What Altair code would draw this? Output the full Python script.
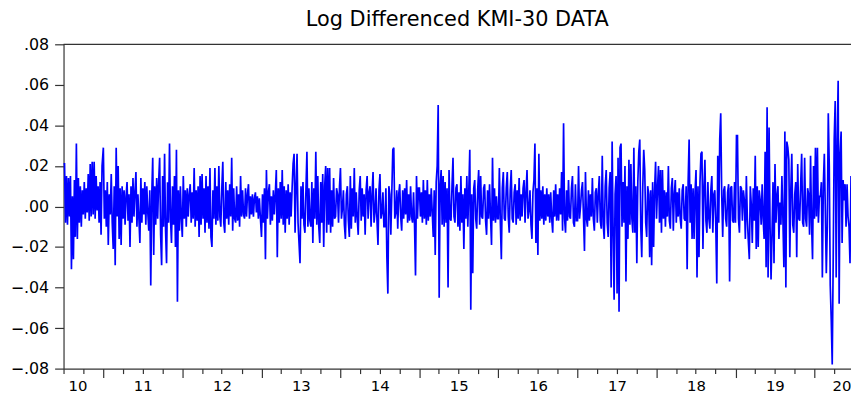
import altair as alt
import pandas as pd

# Log-differenced KMI-30 values, in units of 0.001
# (one reading per ~1/80 of a year, per calendar year)
y2010 = [21, 21, -8, 15, -9, 14, -5, 15, -31, 5, -26, 13, -15, 31, -16, 14, -8, 10, -10, 8,
         -4, 12, -6, 9, -3, 16, -7, 21, -5, 22, -4, 22, -6, 15, -2, 10, -8, 12, -14, 20]
y2011 = [29, -6, 8, -10, 12, -19, 6, -4, 16, -8, -21, 10, -29, 29, -5, 20, -16, 9, -19, 10,
         -6, 8, -9, 5, 12, -7, 6, -20, 10, -8, 14, -5, 7, 17, -10, 6, -6, -18, 14, -8,
         9, -4, 12, -9, 10, -3, -12, 8, -39, 5, 24, -24, 10, -9, 14, -6, 12, 24, -14, -29,
         15, -10, 26, -12, -28, 12, -8, 31, -6, -18, 10, -9, 15, -20, 28, -47, 8, -12, 10, -6]
y2012 = [-15, 15, -6, 8, -10, 9, -5, 6, 11, -8, 7, -6, 19, -10, 8, -7, 10, -15, 15, -9,
         16, -6, 9, -13, 15, -8, 10, -11, 19, -15, -20, 8, -6, 19, -9, 10, -7, 20, -5, -10,
         9, 22, -8, -13, 12, -6, 8, -9, 11, -5, 24, -12, 9, -6, -8, 10, -7, 6, -10, 15,
         -5, 8, -4, -6, 9, -5, 6, 11, -6, 5, -4, 6, -5, 4, 7, -3, 5, -6, 4, -5]
y2013 = [-15, 6, -8, 9, -26, 18, -6, 7, 11, -9, 5, -7, 8, -4, 6, 18, -25, 9, -8, 12,
         -6, 18, -9, 10, -13, 8, -6, 11, -9, 7, -5, 9, 21, 26, -13, 10, 26, -8, -18, -28,
         10, -6, 12, -9, -13, 8, 27, -10, 9, -7, -10, 12, -18, 9, -6, 27, -9, 15, -10, -18,
         12, -8, 16, -20, 10, 20, -13, 19, -9, 19, -13, 8, -10, 14, -6, -5, 9, 6, -8, 10]
y2014 = [19, -6, -1, 8, -9, -16, 6, 10, -7, -15, 15, -11, 9, -5, 19, -8, 7, -6, -14, 8,
         15, -7, 9, -5, 6, -14, 8, 15, -6, 7, 10, -10, 6, 17, -8, -3, 9, -7, -19, 8,
         16, -6, -3, 7, -10, -10, 9, -25, -43, 10, 6, -14, 7, 28, 29, -6, -3, 8, -11, 6,
         11, -5, -12, 8, -6, 9, -4, 13, -8, 6, -7, 10, -5, -8, 7, -9, -34, 15, -6, 9]
y2015 = [9, -5, 7, -8, 13, -6, 8, -9, 13, -7, 6, -5, 9, -3, -15, 8, -24, 12, 20, 50,
         -45, 10, 18, -9, 15, -10, 12, -8, 9, -40, 18, -6, -7, 10, 24, -5, -8, 9, 11, -10,
         7, -12, 15, -8, 6, -21, 9, -6, 15, -10, 8, 28, -51, 6, -33, 9, 13, -6, -11, 8,
         18, -9, 15, -5, -6, 9, 11, -7, -14, 8, -6, 11, -5, -19, 24, -7, 9, -8, 5, -6]
y2016 = [-6, 19, -8, -26, 9, 17, -6, -7, 9, 17, -5, -13, 8, 18, -6, -8, 7, 11, -9, 8,
         -6, 14, -7, 6, -5, 9, 13, -8, 7, 18, -6, -2, 8, -9, -16, 7, 13, 31, -18, 9,
         -24, 26, -7, 8, -6, 10, -9, 6, -7, 9, -5, 6, -8, 7, -6, -13, 8, -5, 11, -7,
         6, -7, 9, -4, 17, -12, 41, -6, -13, 8, -7, 13, -5, -6, 9, 15, -8, -10, 11, -7]
y2017 = [-7, 20, -6, 0, 8, 12, -5, -22, 17, -6, -10, 8, -7, 6, -5, 14, -6, -12, 7, 9,
         -8, 6, 15, -7, -11, 25, -9, -16, 10, 18, -8, -15, 9, 17, -40, 32, -12, -46, 6, 15,
         -43, 24, -52, 29, 31, -10, 12, -8, 20, -37, 10, -16, 23, -9, 21, -6, -13, 29, -13, 10,
         -28, 12, 27, 33, -10, -25, 9, 28, 18, -8, -15, 10, 6, -25, 8, -29, 12, -20, 8, 22]
y2018 = [-6, 9, 20, -8, 18, -13, 18, -6, 8, -10, 7, -5, 20, -7, -11, 9, 14, -12, 6, 13,
         -8, 7, -5, 9, -6, -11, 8, 11, -6, -7, 10, -31, 12, 33, -8, 11, -16, 9, -16, 7,
         18, -35, 10, -25, 12, 26, 27, -21, 9, 23, -7, -13, 12, -6, -11, 8, 15, -13, 6, 8,
         -9, -38, 25, -8, 33, 46, 6, -15, 8, 10, -6, -10, 7, 11, -37, 9, 10, -7, -8, 12]
y2019 = [-8, 35, 35, -6, -13, 10, 9, -7, 8, 3, -16, 15, -6, -17, -26, 10, 1, -18, 9, -7,
         25, -21, 10, -20, 8, 3, -9, 11, -6, -16, 27, -30, 49, -35, 39, -10, -36, -13, 12, -28,
         21, -8, 5, 10, -16, 2, -9, 15, -6, -30, 37, -40, 32, 29, 23, -25, 8, 26, -9, -13,
         6, 12, -25, 21, -6, -7, 11, 26, -8, -10, 24, -6, -10, 9, 6, -14, 25, -8, -26, 20]
y2020 = [-6, 29, -5, 29, -8, 5, 5, 12, -35, 11, 26, -2, -33, -10, 46, 20, -39, -56, -78, -25,
         33, 52, -35, 32, 62, -48, 26, 37, -18, 13, 3, 11, -10, 11, -5, -10, -28, 15]

years = {2010: y2010, 2011: y2011, 2012: y2012, 2013: y2013, 2014: y2014, 2015: y2015,
         2016: y2016, 2017: y2017, 2018: y2018, 2019: y2019, 2020: y2020}

# x-axis tick labels (two-digit years) and where they sit
label_dates = ["2010-09-03"] + [f"{y}-07-02" for y in range(2011, 2020)] + ["2020-05-05"]
quarter_dates = [f"{y}-{m:02d}-01" for y in range(2010, 2021) for m in (1, 4, 7, 10)
                 if "2010-07-01" <= f"{y}-{m:02d}-01" <= "2020-04-01"]
y_ticks = [-0.08, -0.06, -0.04, -0.02, 0.0, 0.02, 0.04, 0.06, 0.08]


def ms(s):
    return int(pd.Timestamp(s, tz="UTC").timestamp() * 1000)


step = pd.Timedelta(days=365.25 / 80)
rows = []
for yr, vals in years.items():
    start = pd.Timestamp("2010-07-01", tz="UTC") if yr == 2010 else pd.Timestamp(f"{yr}-01-01", tz="UTC")
    for i, v in enumerate(vals):
        t = start + i * step
        rows.append({"date": int(t.timestamp() * 1000), "value": v / 1000.0})
df = pd.DataFrame(rows)

x_domain = [ms("2010-07-01"), int(df["date"].max())]
axis_vals = [ms(d) for d in quarter_dates] + [ms(d) for d in label_dates]

FONT = "DejaVu Sans"
AX = "#333333"

x_axis = alt.Axis(
    values=axis_vals,
    title=None,
    grid=False,
    domainColor=AX,
    domainWidth=1.2,
    tickColor=AX,
    tickWidth=1.2,
    tickSize={"condition": [{"test": "utcdate(datum.value) != 1", "value": 0},
                            {"test": "utcmonth(datum.value) == 0", "value": 9}],
              "value": 5},
    labelExpr="utcdate(datum.value) != 1 ? utcFormat(datum.value, '%y') : ''",
    labelFont=FONT,
    labelFontSize=15,
    labelColor="black",
    labelPadding=10,
    labelBaseline="top",
    labelOverlap=False,
    labelFlush=False,
    labelBound=False,
)

y_axis = alt.Axis(
    values=y_ticks,
    title=None,
    grid=False,
    domainColor=AX,
    domainWidth=1.2,
    tickColor=AX,
    tickWidth=1.2,
    tickSize=9,
    labelPadding=6,
    labelExpr="replace(format(datum.value, '.2f'), '0.', '.')",
    labelFont=FONT,
    labelFontSize=16,
    labelColor="black",
)

base = alt.Chart(df)

line = base.mark_line(color="#0000FF", strokeWidth=1.7).encode(
    x=alt.X("date:T", scale=alt.Scale(type="utc", domain=x_domain), axis=x_axis),
    y=alt.Y("value:Q", scale=alt.Scale(domain=[-0.08, 0.08], nice=False, zero=False), axis=y_axis),
)

top_border = alt.Chart(pd.DataFrame({"v": [0.08]})).mark_rule(color=AX, strokeWidth=1.2).encode(
    y=alt.Y("v:Q", scale=alt.Scale(domain=[-0.08, 0.08], nice=False, zero=False))
)

chart = alt.layer(line, top_border).properties(
    width=794,
    height=327,
    padding={"left": 56, "top": 35, "right": 0, "bottom": 25},
    autosize=alt.AutoSizeParams(type="none"),
    title=alt.TitleParams(
        "Log Differenced KMI-30 DATA",
        font=FONT,
        fontSize=21,
        fontWeight="normal",
        color="black",
        anchor="middle",
        offset=6,
    ),
).configure_view(stroke=None)

chart.save("out.html", embed_options={"renderer": "svg", "actions": False})
